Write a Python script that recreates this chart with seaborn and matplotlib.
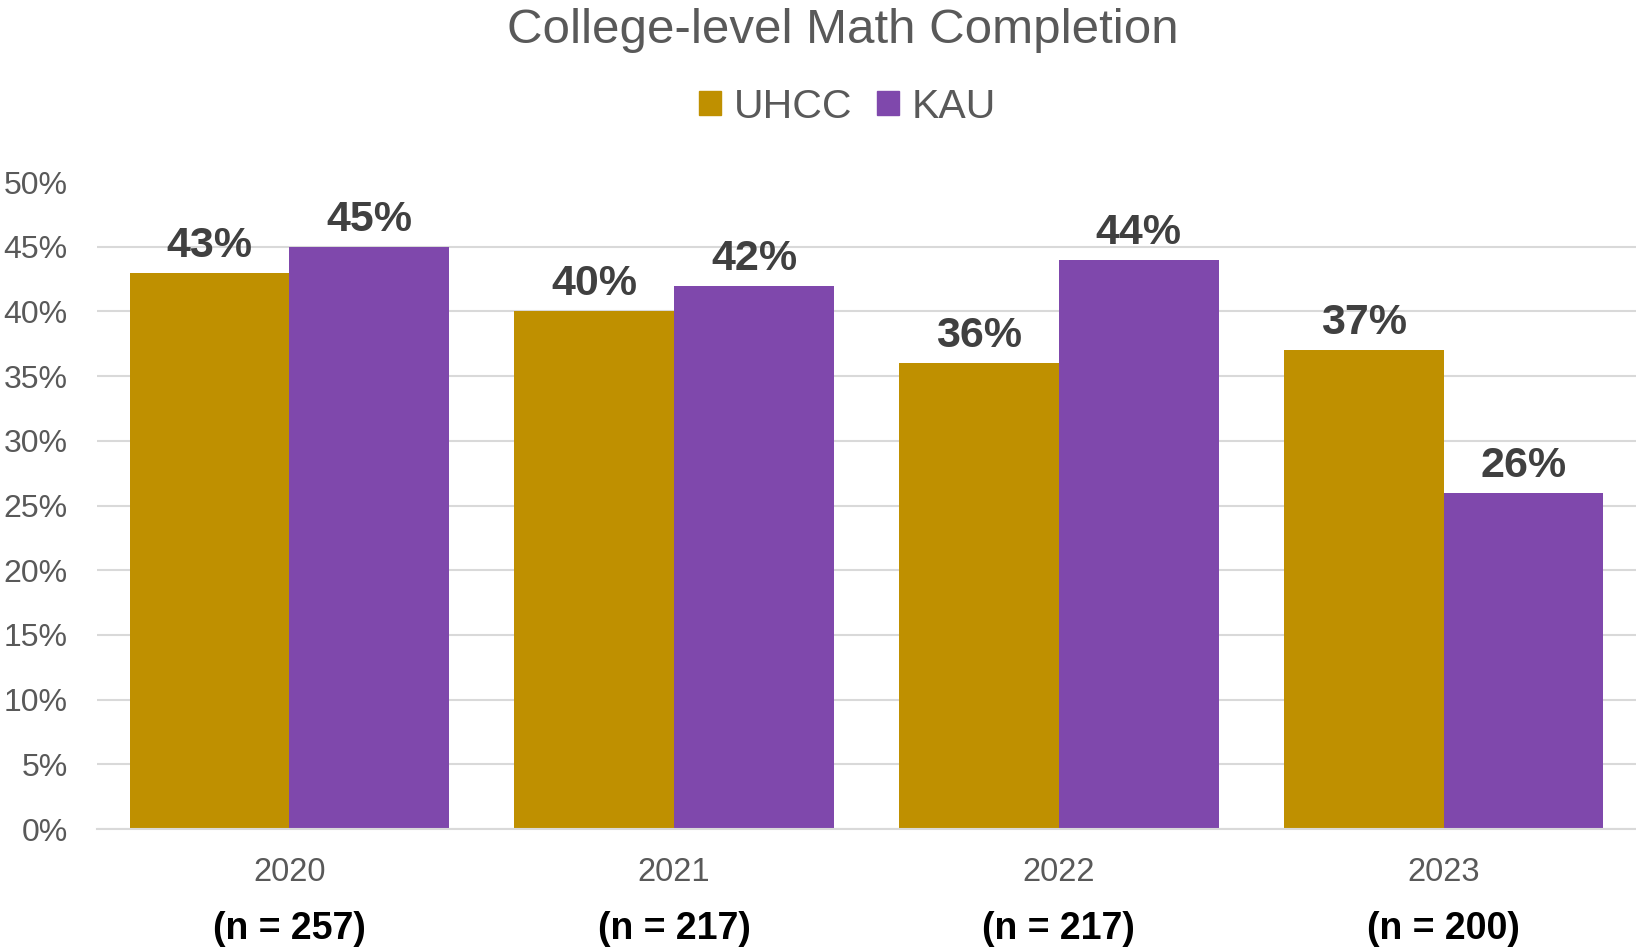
import seaborn as sns
import matplotlib.pyplot as plt
import pandas as pd

years = ['2020', '2021', '2022', '2023']
n_labels = ['(n = 257)', '(n = 217)', '(n = 217)', '(n = 200)']
uhcc = [0.43, 0.40, 0.36, 0.37]
kau = [0.45, 0.42, 0.44, 0.26]
schools = ['UHCC', 'KAU']
colors = ['#BF9000', '#7F48AC']

df = pd.DataFrame({
    'year': years * 2,
    'rate': uhcc + kau,
    'school': ['UHCC'] * 4 + ['KAU'] * 4,
})

sns.set_style('white')
plt.rcParams['font.family'] = ['Liberation Sans', 'DejaVu Sans']

fig = plt.figure(figsize=(16.36, 9.52), dpi=100)
ax = fig.add_axes([0.0593, 0.1292, 0.9407, 0.6796])

sns.barplot(data=df, x='year', y='rate', hue='school', hue_order=schools,
            palette=colors, saturation=1, width=0.83, linewidth=0,
            ax=ax, legend=False)

for cont in ax.containers:
    ax.bar_label(cont, labels=[f'{v * 100:.0f}%' for v in cont.datavalues],
                 padding=5, fontsize=31, fontweight='bold', color='#404040')

ax.set_ylim(0, 0.5)
ax.set_xlim(-0.5, 3.5)
ax.set_yticks([i / 20 for i in range(11)])
ax.set_yticklabels([f'{i * 5}%' for i in range(11)])
ax.tick_params(axis='y', labelsize=23, colors='#595959', length=0, pad=21)
ax.tick_params(axis='x', labelsize=23.5, colors='#595959', length=0, pad=20)
ax.set_xlabel('')
ax.set_ylabel('')

ax.grid(axis='y', color='#D9D9D9', linewidth=1.5)
ax.set_axisbelow(True)
ax.yaxis.get_gridlines()[-1].set_visible(False)
for side in ['top', 'right', 'left']:
    ax.spines[side].set_visible(False)
ax.spines['bottom'].set_color('#D9D9D9')
ax.spines['bottom'].set_linewidth(1.5)

# sample sizes under the year labels
trans = ax.get_xaxis_transform()
for i, lab in enumerate(n_labels):
    ax.text(i, -0.155, lab, transform=trans, ha='center', va='center',
            fontsize=27, fontweight='bold', color='black')

fig.text(0.515, 0.968, 'College-level Math Completion', ha='center', va='center',
         fontsize=35.5, color='#595959')

handles = [plt.Rectangle((0, 0), 1, 1, color=c) for c in colors]
fig.legend(handles, schools, loc='center', bbox_to_anchor=(0.518, 0.888), ncol=2,
           frameon=False, fontsize=29.5, labelcolor='#595959',
           handlelength=0.55, handleheight=0.55, handletextpad=0.3, columnspacing=0.6)

fig.savefig('out.png', dpi=100)
